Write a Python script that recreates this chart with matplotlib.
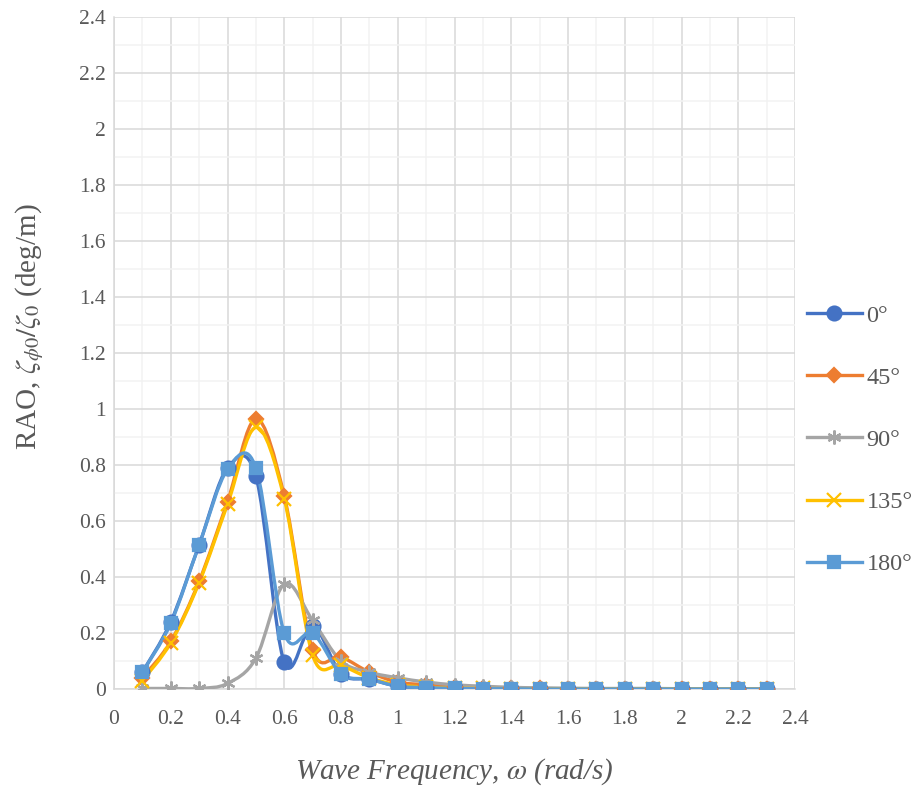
import matplotlib.pyplot as plt
from matplotlib.lines import Line2D
from matplotlib.path import Path
from matplotlib.patches import PathPatch
from matplotlib.ticker import MultipleLocator

FREQ = [0.1, 0.2, 0.3, 0.4, 0.5, 0.6, 0.7, 0.8, 0.9, 1.0, 1.1, 1.2,
        1.3, 1.4, 1.5, 1.6, 1.7, 1.8, 1.9, 2.0, 2.1, 2.2, 2.3]
RAO_0 = [0.06, 0.24, 0.515, 0.79, 0.76, 0.095, 0.225, 0.055, 0.035, 0.01, 0.005, 0.002,
         0.001, 0.001, 0.0, 0.0, 0.0, 0.0, 0.0, 0.0, 0.0, 0.0, 0.0]
RAO_45 = [0.04, 0.17, 0.385, 0.67, 0.965, 0.69, 0.14, 0.115, 0.06, 0.025, 0.015, 0.008,
          0.005, 0.003, 0.002, 0.001, 0.001, 0.0, 0.0, 0.0, 0.0, 0.0, 0.0]
RAO_90 = [0.002, 0.002, 0.002, 0.02, 0.11, 0.375, 0.245, 0.1, 0.06, 0.04, 0.025, 0.015,
          0.01, 0.006, 0.004, 0.003, 0.002, 0.002, 0.002, 0.001, 0.001, 0.001, 0.001]
RAO_135 = [0.03, 0.165, 0.38, 0.66, 0.935, 0.68, 0.12, 0.085, 0.04, 0.015, 0.007, 0.003,
           0.002, 0.001, 0.0, 0.0, 0.0, 0.0, 0.0, 0.0, 0.0, 0.0, 0.0]
RAO_180 = [0.06, 0.235, 0.515, 0.785, 0.79, 0.2, 0.2, 0.055, 0.035, 0.01, 0.005, 0.002,
           0.001, 0.001, 0.0, 0.0, 0.0, 0.0, 0.0, 0.0, 0.0, 0.0, 0.0]
LABELS = ["0°", "45°", "90°", "135°", "180°"]
SERIES = [RAO_0, RAO_45, RAO_90, RAO_135, RAO_180]
COLORS = ["#4472C4", "#ED7D31", "#A5A5A5", "#FFC000", "#5B9BD5"]
MARKERS = ["o", "D", (6, 2, 0), "x", "s"]
MSIZES = [10, 7.5, 10, 9.5, 8]

TEXT = "#595959"
plt.rcParams.update({"font.family": ["Liberation Serif", "DejaVu Serif"], "text.color": TEXT,
                     "mathtext.fontset": "stix"})


def smooth_path(xs, ys):
    # Excel-like smoothed line: Catmull-Rom segments as cubic Beziers
    pts = list(zip(xs, ys))
    verts = [pts[0]]
    codes = [Path.MOVETO]
    n = len(pts)
    for i in range(n - 1):
        p0 = pts[max(i - 1, 0)]
        p1 = pts[i]
        p2 = pts[i + 1]
        p3 = pts[min(i + 2, n - 1)]
        c1 = (p1[0] + (p2[0] - p0[0]) / 6, p1[1] + (p2[1] - p0[1]) / 6)
        c2 = (p2[0] - (p3[0] - p1[0]) / 6, p2[1] - (p3[1] - p1[1]) / 6)
        verts += [c1, c2, p2]
        codes += [Path.CURVE4] * 3
    return Path(verts, codes)


fig = plt.figure(figsize=(9.15, 7.87), dpi=100)
ax = fig.add_axes([0.1246, 0.1245, 0.7443, 0.8535])

handles = []
for vals, lab, col, mk, ms in zip(SERIES, LABELS, COLORS, MARKERS, MSIZES):
    ax.add_patch(PathPatch(smooth_path(FREQ, vals), facecolor="none", edgecolor=col,
                           lw=2.4, capstyle="round", joinstyle="round", zorder=3))
    ax.plot(FREQ, vals, linestyle="none", marker=mk, markersize=ms, color=col,
            markeredgewidth=1.6, zorder=4)
    handles.append(Line2D([], [], color=col, lw=2.4, marker=mk, markersize=ms,
                          markeredgewidth=1.6, label=lab))

ax.set_xlim(0, 2.4)
ax.set_ylim(0, 2.4)
ax.xaxis.set_major_locator(MultipleLocator(0.2))
ax.yaxis.set_major_locator(MultipleLocator(0.2))
ax.xaxis.set_minor_locator(MultipleLocator(0.1))
ax.yaxis.set_minor_locator(MultipleLocator(0.1))
ax.grid(which="major", color="#D9D9D9", lw=1.1, zorder=0)
ax.grid(which="minor", color="#F2F2F2", lw=1.1, zorder=0)
ax.set_axisbelow(True)
ax.tick_params(which="both", length=0, labelsize=15.5, labelcolor=TEXT)
ax.tick_params(axis="x", pad=15)
ax.tick_params(axis="y", pad=6)
ax.xaxis.set_major_formatter(plt.FuncFormatter(lambda v, p: f"{v:.1f}".rstrip("0").rstrip(".")))
ax.yaxis.set_major_formatter(plt.FuncFormatter(lambda v, p: f"{v:.1f}".rstrip("0").rstrip(".")))
for s in ["top", "right"]:
    ax.spines[s].set_visible(False)
for s in ["left", "bottom"]:
    ax.spines[s].set_color("#D9D9D9")
    ax.spines[s].set_linewidth(1.1)

ax.set_xlabel("Wave Frequency, $\\omega$ (rad/s)", fontsize=21, style="italic", color=TEXT)
ax.xaxis.set_label_coords(0.5, -0.1)
ax.set_ylabel("RAO, $\\zeta_{\\phi0}/\\zeta_{0}$ (deg/m)", fontsize=21, color=TEXT)
ax.yaxis.set_label_coords(-0.1, 0.54)

fig.legend(handles=handles, loc="center left", bbox_to_anchor=(0.882, 0.441), frameon=False,
           fontsize=17.5, handlelength=2.25, handletextpad=0.2, labelspacing=1.65,
           borderpad=0, borderaxespad=0, labelcolor=TEXT)

fig.savefig("out.png", dpi=100)
